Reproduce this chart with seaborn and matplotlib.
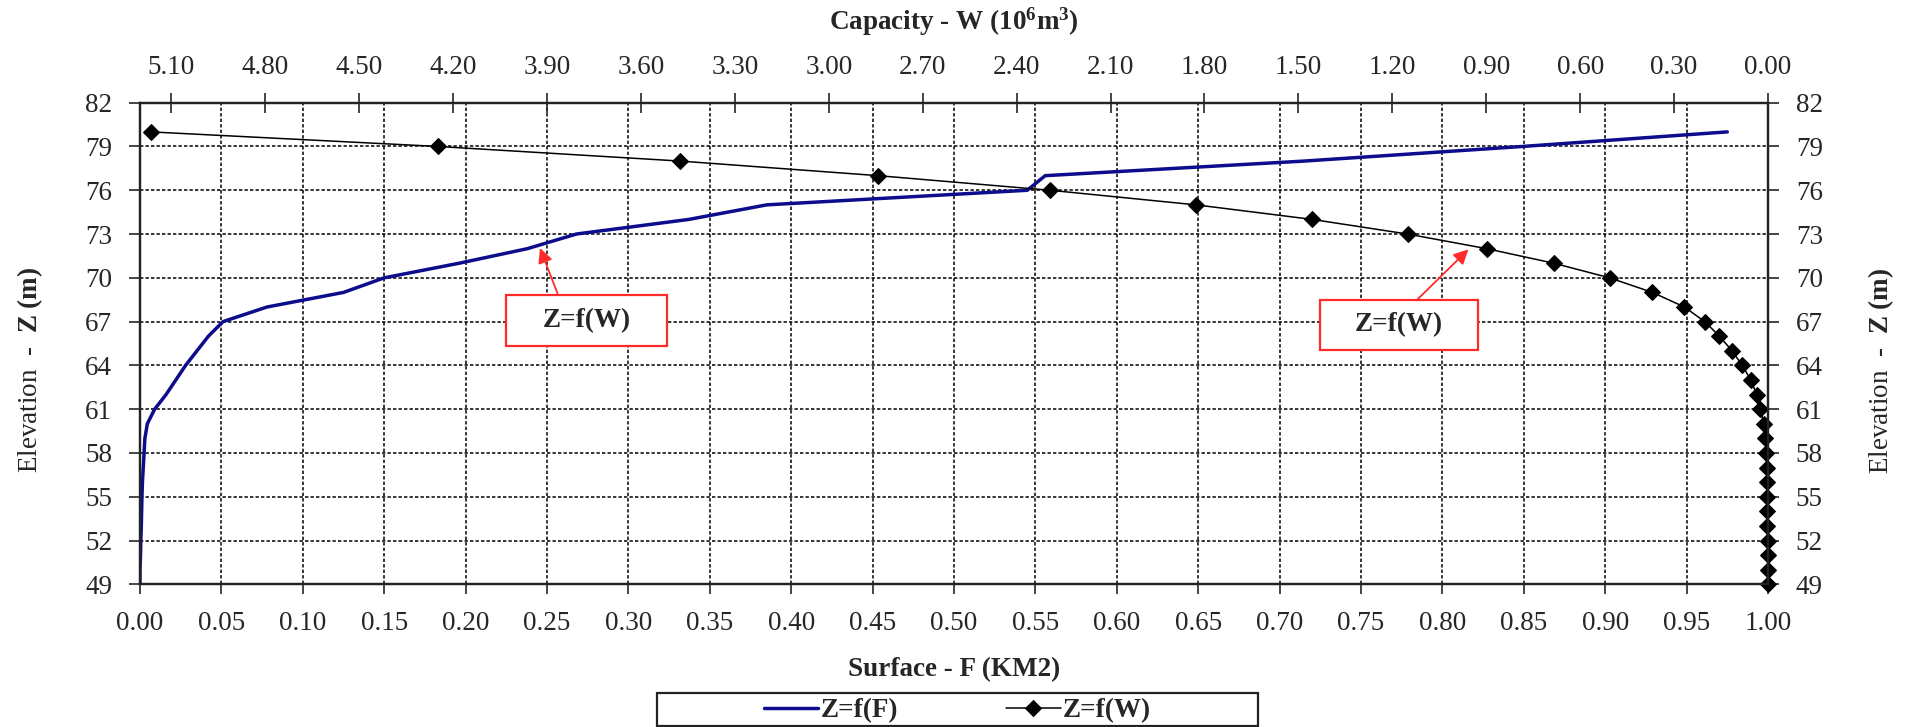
import numpy as np
import pandas as pd
import seaborn as sns
import matplotlib
matplotlib.use("Agg")
import matplotlib.pyplot as plt
from matplotlib.patches import Rectangle

# ---------------- data ----------------
elevation = [49, 50, 51, 52, 53, 54, 55, 56, 57, 58, 59, 60, 61, 62, 63, 64,
             65, 66, 67, 68, 69, 70, 71, 72, 73, 74, 75, 76, 77, 78, 79, 80]
surface_f = [0.000, 0.000, 0.0003, 0.0005, 0.0008, 0.001, 0.0012, 0.0015, 0.002,
             0.0025, 0.003, 0.0045, 0.009, 0.016, 0.022, 0.028, 0.035, 0.042,
             0.051, 0.078, 0.125, 0.150, 0.196, 0.238, 0.268, 0.337, 0.385,
             0.545, 0.556, 0.715, 0.849, 0.975]
capacity_w = [0.000, 0.000, 0.001, 0.001, 0.002, 0.002, 0.003, 0.003, 0.004,
              0.005, 0.008, 0.014, 0.024, 0.036, 0.055, 0.082, 0.115, 0.155,
              0.202, 0.267, 0.369, 0.506, 0.684, 0.899, 1.151, 1.455, 1.827,
              2.293, 2.842, 3.474, 4.247, 5.166]
f_ticks = [round(0.05 * i, 2) for i in range(21)]
w_ticks = [round(0.30 * i, 2) for i in range(18)]
z_ticks = list(range(49, 83, 3))
series_names = ["Z=f(F)", "Z=f(W)"]
note_text = "Z=f(W)"

df_f = pd.DataFrame({"F": surface_f, "Z": elevation})
df_w = pd.DataFrame({"W": capacity_w, "Z": elevation})

# ---------------- style ----------------
sns.set_style("white")
plt.rcParams["font.family"] = ["Liberation Serif", "DejaVu Serif"]
plt.rcParams["mathtext.fontset"] = "custom"
plt.rcParams["mathtext.rm"] = "Liberation Serif"
plt.rcParams["mathtext.it"] = "Liberation Serif:italic"
plt.rcParams["mathtext.bf"] = "Liberation Serif:bold"
FS = 19.5
BLUE = "#0c0c8c"
RED = "#ff2b2b"

W, H = 1912, 727
fig = plt.figure(figsize=(W / 100, H / 100), dpi=100)
left, right, top, bottom = 140, 1768, 102.7, 584.3
ax = fig.add_axes([left / W, 1 - bottom / H, (right - left) / W, (bottom - top) / H])

sns.lineplot(data=df_f, x="F", y="Z", sort=False, estimator=None, ax=ax,
             color=BLUE, linewidth=2.5, label=series_names[0])
ax.set_xlim(0, 1)
ax.set_ylim(49, 82)
ax.set_xticks(f_ticks)
ax.set_xticklabels([f"{t:.2f}" for t in f_ticks])
ax.set_yticks(z_ticks)
ax.set_yticklabels([str(t) for t in z_ticks])
ax.grid(True, color="black", linestyle=(0, (2.2, 1.4)), linewidth=1.1)
ax.set_axisbelow(True)
ax.tick_params(axis="x", bottom=True, direction="out", length=7, width=1.2,
               pad=12, labelsize=FS)
ax.tick_params(axis="y", left=True, right=True, labelright=True, direction="out",
               length=8, width=1.2, pad=12, labelsize=FS)

ax.set_xlabel("Surface - F (KM2)", fontsize=FS, fontweight="bold")
ax.xaxis.set_label_coords(0.5, (bottom - 670) / (bottom - top))
ax.xaxis.label.set_verticalalignment("center")
ax.set_ylabel(r"Elevation  -  $\mathbf{Z\ (m)}$", fontsize=FS)
ax.yaxis.set_label_coords((30 - left) / (right - left), (bottom - 370) / (bottom - top))
ax.yaxis.label.set_verticalalignment("center")
fig.text(1881 / W, 1 - 371 / H, r"Elevation  -  $\mathbf{Z\ (m)}$", fontsize=FS,
         rotation=90, ha="center", va="center")

# top axis: capacity (reversed)
ax2 = ax.twiny()
sns.lineplot(data=df_w, x="W", y="Z", sort=False, estimator=None, ax=ax2,
             color="black", linewidth=1.1, marker="D", markersize=8.5,
             markeredgecolor="black", label=series_names[1], clip_on=False)
ax2.set_xlim(5.2, 0)
ax2.set_ylim(49, 82)
ax2.set_xticks(w_ticks)
ax2.set_xticklabels([f"{t:.2f}" for t in w_ticks])
ax2.tick_params(axis="x", top=True, direction="inout", length=14, width=1.2,
                pad=9, labelsize=FS)
ax2.grid(False)
ax2.set_xlabel(r"Capacity - W (10$^{\mathbf{6}}$m$^{\mathbf{3}}$)", fontsize=FS,
               fontweight="bold")
ax2.xaxis.set_label_coords(0.5, (bottom - 22) / (bottom - top))
ax2.xaxis.label.set_verticalalignment("center")

for a in (ax, ax2):
    for s in a.spines.values():
        s.set_visible(True)
        s.set_color("#222222")
        s.set_linewidth(1.6)

# annotations (boxes + arrows)
def note(axis, cx, cz, wf, hz, base, tip):
    axis.add_patch(Rectangle((cx - wf / 2, cz - hz / 2), wf, hz, facecolor="white",
                             edgecolor=RED, linewidth=1.6, zorder=6))
    axis.text(cx, cz, note_text, ha="center", va="center", fontsize=FS,
              fontweight="bold", zorder=7)
    axis.annotate("", xy=tip, xytext=base, zorder=6,
                  arrowprops=dict(arrowstyle="-|>", color=RED, lw=1.3,
                                  mutation_scale=22, shrinkA=0, shrinkB=0))

note(ax, 0.2743, 67.08, 0.0989, 3.49, (0.2568, 68.83), (0.2457, 72.04))
note(ax, 0.7734, 66.77, 0.0970, 3.43, (0.7844, 68.49), (0.816, 71.95))

# legend
h1, l1 = ax.get_legend_handles_labels()
h2, l2 = ax2.get_legend_handles_labels()
for a in (ax, ax2):
    if a.get_legend() is not None:
        a.get_legend().remove()
fig.legend(h1 + h2, l1 + l2, loc="center", bbox_to_anchor=(957.5 / W, 1 - 711 / H),
           ncol=2, frameon=False, handlelength=2.0, handletextpad=0.1,
           columnspacing=4.0, prop={"size": FS, "weight": "bold"})
fig.patches.append(Rectangle((657 / W, 1 / H), 601 / W, (727 - 693 - 1) / H,
                             transform=fig.transFigure, fill=False,
                             edgecolor="#222222", linewidth=1.6))

fig.savefig("out.png", dpi=100)
